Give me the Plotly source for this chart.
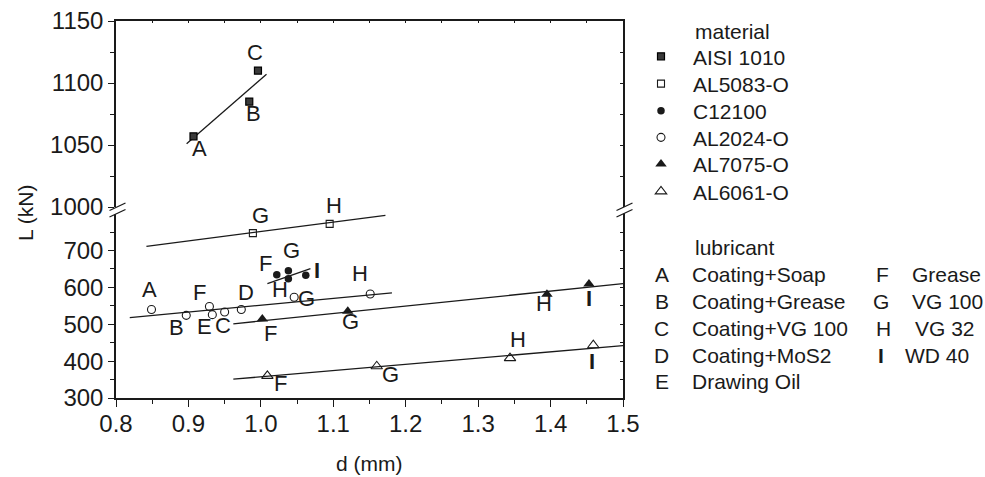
import plotly.graph_objects as go

# ---------------- data ----------------
d_range = [0.8, 1.5]
lower_range = [300, 811]
upper_range = [1000, 1150]
x_ticks = [0.8, 0.9, 1.0, 1.1, 1.2, 1.3, 1.4, 1.5]
x_minor = [0.85, 0.95, 1.05, 1.15, 1.25, 1.35, 1.45]
lower_ticks = [300, 400, 500, 600, 700]
lower_minor = [350, 450, 550, 650, 750]
upper_ticks = [1000, 1050, 1100, 1150]
upper_minor = [1025, 1075, 1125]

materials = ["AISI 1010", "AL5083-O", "C12100", "AL2024-O", "AL7075-O", "AL6061-O"]

aisi_d = [0.907, 0.984, 0.996]
aisi_L = [1057, 1085, 1110]
aisi_lub = ["A", "B", "C"]

al5083_d = [0.989, 1.095]
al5083_L = [747, 772]
al5083_lub = ["G", "H"]

c12100_d = [1.022, 1.038, 1.038, 1.062]
c12100_L = [634, 645, 623, 633]
c12100_lub = ["F", "G", "H", "I"]

al2024_d = [0.849, 0.897, 0.929, 0.933, 0.950, 0.973, 1.046, 1.151]
al2024_L = [540, 524, 548, 526, 533, 540, 573, 582]
al2024_lub = ["A", "B", "F", "E", "C", "D", "G", "H"]

al7075_d = [1.002, 1.120, 1.395, 1.453]
al7075_L = [514, 535, 581, 609]
al7075_lub = ["F", "G", "H", "I"]

al6061_d = [1.009, 1.160, 1.344, 1.459]
al6061_L = [360, 386, 408, 443]
al6061_lub = ["F", "G", "H", "I"]

# fitted trend lines: [d_start, d_end], [L_start, L_end]
aisi_fit_d, aisi_fit_L = [0.8975, 1.0078], [1051, 1107]
al5083_fit_d, al5083_fit_L = [0.842, 1.172], [711, 795]
c12100_fit_d, c12100_fit_L = [1.009, 1.0685], [610, 651]
al2024_fit_d, al2024_fit_L = [0.819, 1.181], [518, 585]
al7075_fit_d, al7075_fit_L = [0.962, 1.5], [501, 610]
al6061_fit_d, al6061_fit_L = [0.962, 1.5], [351, 442]

lub_codes = ["A", "B", "C", "D", "E", "F", "G", "H", "I"]
lub_names = ["Coating+Soap", "Coating+Grease", "Coating+VG 100", "Coating+MoS2",
             "Drawing Oil", "Grease", "VG 100", "VG 32", "WD 40"]

# ---------------- styles ----------------
FONT = "Liberation Sans, Arial, sans-serif"
INK = "#1a1a1a"
W, H = 985, 477
ML, MR, MT, MB = 116, 362, 21, 79
PW, PH = W - ML - MR, H - MT - MB


def px_x(px):
    return (px - ML) / PW


def px_y(py):
    return (H - MB - py) / PH


def label_text(code):
    return "<b>I</b>" if code == "I" else code


series = [
    dict(name=materials[0], d=aisi_d, L=aisi_L, lub=aisi_lub, fd=aisi_fit_d, fL=aisi_fit_L, ax="y2",
         marker=dict(symbol="square", size=7, color="#3a3a3a", line=dict(color="#000", width=1.2)),
         offs=[(6, 12.6), (4, 12), (-3.4, -18.3)]),
    dict(name=materials[1], d=al5083_d, L=al5083_L, lub=al5083_lub, fd=al5083_fit_d, fL=al5083_fit_L, ax="y",
         marker=dict(symbol="square-open", size=7, color=INK, line=dict(width=1.1)),
         offs=[(7.7, -17.3), (4.3, -18.3)]),
    dict(name=materials[2], d=c12100_d, L=c12100_L, lub=c12100_lub, fd=c12100_fit_d, fL=c12100_fit_L, ax="y",
         marker=dict(symbol="circle", size=7.5, color=INK),
         offs=[(-11.4, -11.7), (3.6, -20.3), (-8.3, 10.3), (11.6, -4.6)]),
    dict(name=materials[3], d=al2024_d, L=al2024_L, lub=al2024_lub, fd=al2024_fit_d, fL=al2024_fit_L, ax="y",
         marker=dict(symbol="circle-open", size=8, color=INK, line=dict(width=1.1)),
         offs=[(-1.7, -19.7), (-9.3, 12.6), (-9.7, -14), (-7.7, 11.7), (-2, 13.7), (5, -17),
               (12.7, 1.3), (-10.7, -20)]),
    dict(name=materials[4], d=al7075_d, L=al7075_L, lub=al7075_lub, fd=al7075_fit_d, fL=al7075_fit_L, ax="y",
         marker=dict(symbol="triangle-up", size=10, color=INK),
         offs=[(7.7, 14.7), (2.4, 10), (-2.7, 9.3), (0, 14)]),
    dict(name=materials[5], d=al6061_d, L=al6061_L, lub=al6061_lub, fd=al6061_fit_d, fL=al6061_fit_L, ax="y",
         marker=dict(symbol="triangle-up-open", size=10, color=INK, line=dict(width=1.1)),
         offs=[(12.7, 7.3), (13.3, 8.3), (8, -19), (-1.4, 16)]),
]

legend_row_y = [56.7, 84, 111, 137.7, 164.3, 191.7]
legend_names = ["legend"] + ["legend%d" % i for i in range(2, 7)]

fig = go.Figure()
annotations = []

for s in series:
    fig.add_trace(go.Scatter(x=s["fd"], y=s["fL"], mode="lines", yaxis=s["ax"], showlegend=False,
                             line=dict(color=INK, width=1.3), hoverinfo="skip"))
for s, lg in zip(series, legend_names):
    fig.add_trace(go.Scatter(x=s["d"], y=s["L"], mode="markers", name=s["name"], yaxis=s["ax"],
                             marker=s["marker"], legend=lg))
    for d, L, lab, (dx, dy) in zip(s["d"], s["L"], s["lub"], s["offs"]):
        annotations.append(dict(x=d, y=L, xref="x", yref=s["ax"], text=label_text(lab), showarrow=False,
                                xanchor="center", yanchor="middle",
                                xshift=dx, yshift=-dy, font=dict(family=FONT, size=22, color=INK)))

# dummy traces so the mirror axes exist
fig.add_trace(go.Scatter(x=[], y=[], xaxis="x2", yaxis="y2", showlegend=False))
fig.add_trace(go.Scatter(x=[], y=[], xaxis="x", yaxis="y3", showlegend=False))
fig.add_trace(go.Scatter(x=[], y=[], xaxis="x", yaxis="y4", showlegend=False))


def paper_text(px, py, text, size=21, xanchor="left", angle=0):
    return dict(x=px_x(px), y=px_y(py), xref="paper", yref="paper", text=text, showarrow=False,
                xanchor=xanchor, yanchor="middle", textangle=angle,
                font=dict(family=FONT, size=size, color=INK))


# axis titles
annotations.append(paper_text(369.5, 463, "d (mm)", 21, "center"))
annotations.append(paper_text(25, 213, "L (kN)", 21, "center", -90))

# legend titles / lubricant key
annotations.append(paper_text(693, 31, "material"))
annotations.append(paper_text(693, 247.5, "lubricant"))
col_letter_x = [661.7] * 5 + [882.5, 881, 883, 881]
col_name_x = [690] * 5 + [910, 910, 913, 903]
row_y = [274.3 + 26.9 * i for i in range(5)] + [274.3 + 26.9 * i for i in range(4)]
for code, name, lx, nx, ry in zip(lub_codes, lub_names, col_letter_x, col_name_x, row_y):
    annotations.append(paper_text(lx, ry, label_text(code), 21, "center"))
    annotations.append(paper_text(nx, ry, name, 21, "left"))

# axis-break marks
shapes = []
for cx in (117.5, 624.5):
    shapes.append(dict(type="path", xref="paper", yref="paper", layer="above",
                       path="M {} {} L {} {} L {} {} L {} {} Z".format(
                           px_x(cx - 8), px_y(210.5), px_x(cx + 8), px_y(203),
                           px_x(cx + 8), px_y(209.5), px_x(cx - 8), px_y(217)),
                       fillcolor="white", line=dict(width=0)))
    for oy in (0, 6.5):
        shapes.append(dict(type="line", xref="paper", yref="paper", layer="above",
                           x0=px_x(cx - 8), y0=px_y(210.5 + oy), x1=px_x(cx + 8), y1=px_y(203 + oy),
                           line=dict(color=INK, width=1.3)))

tickfont = dict(family=FONT, size=24, color=INK)
lower_top = px_y(209.5)
upper_bot = px_y(207)

layout_legends = {}
for lg, ry in zip(legend_names, legend_row_y):
    layout_legends[lg] = dict(x=px_x(629), y=px_y(ry - 20.5), xanchor="left", yanchor="top",
                              itemwidth=54, font=dict(family=FONT, size=21, color=INK),
                              bgcolor="rgba(0,0,0,0)")

fig.update_layout(
    width=W, height=H, margin=dict(l=ML, r=MR, t=MT, b=MB, autoexpand=False),
    paper_bgcolor="white", plot_bgcolor="white",
    font=dict(family=FONT, color=INK),
    showlegend=True,
    xaxis=dict(range=d_range, domain=[0, 1], anchor="y", showgrid=False, zeroline=False,
               showline=True, linecolor=INK, linewidth=1.5,
               tickmode="array", tickvals=x_ticks, tickformat=".1f", ticks="outside", ticklen=7,
               tickwidth=1.3, tickcolor=INK, tickfont=tickfont, ticklabelstandoff=-4,
               minor=dict(tickmode="array", tickvals=x_minor, ticks="outside", ticklen=4,
                          tickcolor=INK, tickwidth=1.2, showgrid=False)),
    xaxis2=dict(range=d_range, overlaying="x", anchor="y2", side="top", showgrid=False, zeroline=False,
                showline=True, linecolor=INK, linewidth=2, showticklabels=False,
                tickmode="array", tickvals=x_ticks + x_minor, ticks="inside", ticklen=2, tickcolor=INK),
    yaxis=dict(range=lower_range, domain=[0, lower_top], anchor="x", showgrid=False, zeroline=False,
               showline=True, linecolor=INK, linewidth=1.5,
               tickmode="array", tickvals=lower_ticks, ticks="outside", ticklen=6, tickwidth=1.3,
               tickcolor=INK, tickfont=tickfont,
               minor=dict(tickmode="array", tickvals=lower_minor, ticks="outside", ticklen=4,
                          tickcolor=INK, tickwidth=1.2, showgrid=False)),
    yaxis2=dict(range=upper_range, domain=[upper_bot, 1], anchor="x", showgrid=False, zeroline=False,
                showline=True, linecolor=INK, linewidth=1.5,
                tickmode="array", tickvals=upper_ticks, ticks="outside", ticklen=6, tickwidth=1.3,
                tickcolor=INK, tickfont=tickfont,
                minor=dict(tickmode="array", tickvals=upper_minor, ticks="outside", ticklen=4,
                           tickcolor=INK, tickwidth=1.2, showgrid=False)),
    yaxis3=dict(range=lower_range, overlaying="y", anchor="x", side="right", showgrid=False,
                zeroline=False, showline=True, linecolor=INK, linewidth=1.5, showticklabels=False,
                tickmode="array", tickvals=lower_ticks + lower_minor, ticks="inside", ticklen=3,
                tickcolor=INK),
    yaxis4=dict(range=upper_range, overlaying="y2", anchor="x", side="right", showgrid=False,
                zeroline=False, showline=True, linecolor=INK, linewidth=1.5, showticklabels=False,
                tickmode="array", tickvals=upper_ticks + upper_minor, ticks="inside", ticklen=3,
                tickcolor=INK),
    annotations=annotations,
    shapes=shapes,
    **layout_legends,
)

fig.write_html("out.html", config={"displayModeBar": False},
               post_script="document.body.style.margin='0';document.body.style.overflow='hidden';")
